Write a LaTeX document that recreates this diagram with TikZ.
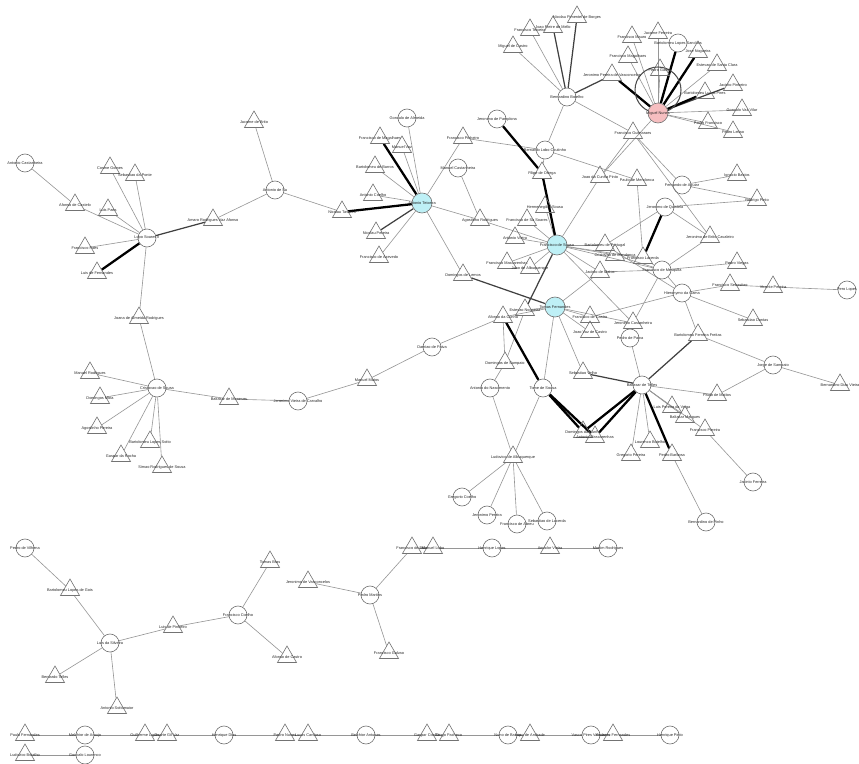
\documentclass[tikz,border=0pt]{standalone}
\usepackage{fontspec}
\setmainfont{Liberation Sans}
\usetikzlibrary{shapes.geometric,backgrounds}
\definecolor{hubcyan}{RGB}{190,240,246}
\definecolor{hubpink}{RGB}{246,190,192}
\definecolor{linkgray}{RGB}{150,150,150}

\begin{document}
\begin{tikzpicture}[x=0.02cm,y=-0.02cm,
  lab/.style={font=\fontsize{2.2}{2.6}\selectfont,inner sep=0pt,text=black!85},
  pers/.style={circle,draw=black!55,line width=0.35pt,minimum size=0.36cm,inner sep=0pt,label={[lab]center:#1}},
  tri/.style={regular polygon,regular polygon sides=3,draw=black!55,line width=0.35pt,minimum size=0.44cm,inner sep=0pt,label={[lab]center:#1}},
  hubc/.style={pers=#1,fill=hubcyan,minimum size=0.4cm},
  hubp/.style={pers=#1,fill=hubpink,minimum size=0.4cm},
  lnk/.style={draw=linkgray,line width=0.35pt},
  mid/.style={draw=black!75,line width=0.7pt},
  strong/.style={draw=black,line width=1.3pt}]
  \useasboundingbox (0,0) rectangle (859,764);

  % Left cluster
  \node[pers={Antonio Castanheira}] (acast) at (25,163) {};
  \node[tri={Afonso de Castelo}] (afcas) at (75,205) {};
  \node[tri={Cosme Gomes}] (cgom) at (110,168) {};
  \node[tri={Sebastiao da Ponte}] (spin) at (135,175) {};
  \node[tri={Luis Paes}] (lpaes) at (108,210) {};
  \node[pers={Lopo Soares II}] (lopo) at (147,238) {};
  \node[tri={Francisco Paes}] (fpaes) at (85,248) {};
  \node[tri={Luis de Fernandes}] (lfern) at (97,273) {};
  \node[tri={Amaro Rodrigues Vaz Afonso}] (arva) at (213,220) {};
  \node[pers={Antonio de Sa}] (asi) at (275,190) {};
  \node[tri={Jacome de Brito}] (jbra) at (254,122) {};
  \node[tri={Nicolau Tavares}] (ntav) at (342,212) {};

  % First hub
  \node[hubc={Antonio Teixeira}] (hubA) at (422,203) {};
  \node[tri={Francisco de Magalhaes}] (fmag) at (380,138) {};
  \node[tri={Manuel Vaz}] (mvaz) at (402,147) {};
  \node[pers={Goncalo de Almeida}] (gdem) at (407,118) {};
  \node[tri={Bartolomeu de Barros}] (bbar) at (375,167) {};
  \node[tri={Antonio Coelho}] (acag) at (373,195) {};
  \node[tri={Nicolau Pereira}] (npai) at (376,233) {};
  \node[tri={Francisco de Azevedo}] (fazev) at (379,257) {};
  \node[tri={Francisco Pinheiro}] (fpinh) at (463,138) {};
  \node[pers={Manuel Castanheira}] (mcas) at (458,168) {};
  \node[tri={Agostinho Rodrigues}] (agpon) at (480,220) {};
  \node[tri={Domingos de Lemos}] (dsou) at (463,275) {};

  % Top middle
  \node[pers={Jeronimo de Pamplona}] (jpam) at (497,119) {};
  \node[tri={Filipe de Ortega}] (fort) at (542,173) {};
  \node[pers={Bernardo Lobo Coutinho}] (bloz) at (545,150) {};
  \node[pers={Bernardino Botelho}] (bbot) at (567,97) {};
  \node[tri={Miguel de Castro}] (mcast) at (513,47) {};
  \node[tri={Francisco Teixeira}] (ftei) at (530,30) {};
  \node[tri={Joao Freire de Mello}] (jprad) at (553,27) {};
  \node[tri={Nicolau Pimentel de Borges}] (npbor) at (577,17) {};
  \node[tri={Jeronimo Pereira de Vasconcelos}] (jpmel) at (612,75) {};

  % Second hub (top right)
  \node[hubp={Miguel Nunes}] (pink) at (658,113) {};
  \node[tri={Francisco Guimaraes}] (fgui) at (633,133) {};
  \node[tri={Joao da Cunha Pinto}] (jcun) at (600,177) {};
  \node[tri={Paulo de Mendonca}] (pmen) at (637,180) {};
  \node[tri={Francisco Mauro}] (fmau) at (632,37) {};
  \node[tri={Jacome Ferreira}] (jfer) at (658,33) {};
  \node[pers={Bartolomeu Lopes Sanches}] (blsan) at (678,43) {};
  \node[tri={Jose Nogueira}] (jnog) at (698,52) {};
  \node[tri={Francisco Magalhaes}] (fmag2) at (628,57) {};
  \node[tri={Estevao de Santa Clara}] (ssan) at (717,65) {};
  \node[tri={Pedro Garcia}] (pgar) at (660,70) {};
  \node[tri={Jacinto Pinheiro}] (jpin) at (733,85) {};
  \node[tri={Bartolomeu Lucas Pires}] (bpir) at (705,93) {};
  \node[tri={Goncalo Vaz Vilar}] (gvil) at (742,110) {};
  \node[tri={Pedro Francisco}] (pfra) at (708,123) {};
  \node[tri={Pedro Leitao}] (pleit) at (733,132) {};
  \coordinate (loopc) at (658,90);

  % Right middle
  \node[pers={Fernando de Aguiar}] (faguiar) at (682,185) {};
  \node[tri={Ignacio Bastos}] (ibast) at (737,175) {};
  \node[tri={Rodrigo Pinto}] (rpin) at (757,200) {};
  \node[pers={Jeronimo de Quintela}] (jqui) at (665,207) {};
  \node[tri={Jeronimo de Brito Cavaleiro}] (jcav) at (710,237) {};
  \node[tri={Hermenegildo Sousa}] (hsou) at (545,207) {};
  \node[tri={Francisco de Sa Soares}] (fsoar) at (527,220) {};
  \node[tri={Antonio Vieira}] (avie) at (515,238) {};
  \node[tri={Francisco Mascarenhas}] (fmas) at (507,263) {};
  \node[tri={Joao de Albuquerque}] (jalb) at (530,268) {};
  \node[hubc={Francisco de Sousa}] (hubB) at (557,245) {};
  \node[tri={Bartolomeu de Portugal}] (bport) at (605,245) {};
  \node[tri={Cristovao de Mendonca}] (cmen) at (615,255) {};
  \node[tri={Francisco Lacerda}] (llac) at (643,258) {};
  \node[tri={Jacinto de Matos}] (jmat) at (600,272) {};
  \node[pers={Francisco de Mesquita}] (fmgl) at (662,270) {};
  \node[tri={Pedro Viegas}] (pvie) at (737,263) {};
  \node[tri={Francisco Sebastiao}] (fseb) at (730,285) {};
  \node[tri={Vicente Pereira}] (vper) at (773,287) {};
  \node[pers={Pero Lopes}] (plop) at (847,290) {};
  \node[pers={Hieronymo da Gama}] (hgam) at (682,293) {};
  \node[tri={Sebastiao Dantas}] (sdan) at (753,320) {};

  % Third hub
  \node[hubc={Tomas Fernandes}] (hubC) at (555,307) {};
  \node[tri={Estevao Nogueira}] (eest) at (525,310) {};
  \node[tri={Afonso da Cunha}] (acub) at (503,317) {};
  \node[tri={Francisco de Castro}] (fcas) at (590,317) {};
  \node[tri={Joao Vaz de Castro}] (jcas) at (590,332) {};
  \node[tri={Jeronimo Castanheira}] (jcast) at (633,323) {};
  \node[pers={Pedro de Paiva}] (ppai) at (630,338) {};
  \node[tri={Bartolomeu Ferreira Freitas}] (bfre) at (698,335) {};

  % Lower middle
  \node[tri={Domingos de Sampaio}] (dsam) at (505,363) {};
  \node[pers={Antonio do Nascimento}] (anas) at (490,388) {};
  \node[pers={Tome de Sousa}] (tsou) at (543,388) {};
  \node[tri={Sebastiao Velho}] (svel) at (583,373) {};
  \node[pers={Baltasar de Telles}] (btel) at (642,385) {};
  \node[tri={Domingos da Cunha}] (dcun) at (583,432) {};
  \node[tri={Antonio Mascarenhas}] (amas) at (595,437) {};
  \node[tri={Luis Pereira da Veiga}] (lper) at (672,407) {};
  \node[tri={Baltasar Marques}] (bmar) at (685,417) {};
  \node[tri={Francisco Pereira}] (fper) at (705,430) {};
  \node[tri={Lourenco Botelho}] (lbot) at (650,442) {};
  \node[tri={Gregorio Pereira}] (gper) at (631,455) {};
  \node[tri={Pedro Barbosa}] (pbar) at (672,455) {};
  \node[tri={Ludovico de Albuquerque}] (ludalb) at (513,457) {};
  \node[pers={Gregorio Coelho}] (gcoe) at (462,497) {};
  \node[pers={Jeronimo Pereira}] (jper) at (487,515) {};
  \node[pers={Francisco de Abreu}] (fdea) at (517,524) {};
  \node[pers={Sebastiao de Lacerda}] (slac) at (547,521) {};
  \node[tri={Paulo de Mattos}] (pmat) at (717,395) {};
  \node[pers={Jorge de Sampaio}] (jsam) at (773,365) {};
  \node[tri={Bernardino Dias Vieira}] (bvie) at (840,385) {};
  \node[pers={Jacinto Ferreira}] (jfer2) at (753,482) {};
  \node[pers={Bernardino de Pinho}] (bpin) at (706,522) {};

  % Lower left
  \node[tri={Joana de Almeida Rodrigues}] (jrod) at (139,318) {};
  \node[pers={Cristovao de Sousa}] (csou) at (157,388) {};
  \node[tri={Manuel Rodrigues}] (mrod) at (90,373) {};
  \node[tri={Domingos Mota}] (dmot) at (100,398) {};
  \node[tri={Agostinho Pereira}] (aper) at (97,428) {};
  \node[tri={Bartolomeu Lopes Sotto}] (blso) at (150,442) {};
  \node[tri={Gaspar da Rocha}] (groc) at (121,456) {};
  \node[tri={Simao Rodrigues de Sousa}] (srso) at (162,467) {};
  \node[tri={Baltasar de Meneses}] (bdem) at (229,399) {};
  \node[pers={Jeronimo Vieira de Carvalho}] (jcar) at (298,401) {};
  \node[tri={Manuel Matos}] (mmat) at (367,380) {};
  \node[pers={Damiao de Paiva}] (dpai) at (432,347) {};

  % Bottom clusters
  \node[pers={Pedro de Vilhena}] (pvil) at (25,548) {};
  \node[tri={Bartolomeu Lopes de Gois}] (blgo) at (70,590) {};
  \node[pers={Luis da Silveira}] (lsil) at (110,643) {};
  \node[tri={Bernardo Telles}] (btel2) at (55,677) {};
  \node[tri={Antonio Sottomaior}] (asot) at (117,708) {};
  \node[tri={Luis de Pinheiro}] (lpin) at (173,627) {};
  \node[pers={Francisco Coelho}] (fcoe) at (238,615) {};
  \node[tri={Tomas Bras}] (tbra) at (270,562) {};
  \node[tri={Afonso de Castro}] (acas) at (287,657) {};
  \node[tri={Jeronimo de Vasconcelos}] (jvas) at (308,582) {};
  \node[pers={Pedro Martins}] (pmar) at (370,595) {};
  \node[tri={Francisco Galvao}] (fgal) at (389,653) {};
  \node[tri={Francisco de Brito}] (fbri) at (412,548) {};
  \node[tri={Manuel Lobo}] (mlob) at (433,548) {};
  \node[pers={Henrique Lopes}] (hlop) at (492,548) {};
  \node[tri={Amador Vieira}] (avi2) at (550,548) {};
  \node[pers={Martim Rodrigues}] (mrodr) at (608,548) {};

  % Bottom rows
  \node[tri={Paulo Fernandes}] (r1) at (25,735) {};
  \node[pers={Melchior de Araujo}] (r2) at (85,735) {};
  \node[tri={Guilherme Lopes}] (r3) at (145,735) {};
  \node[tri={Duarte Gil Vaz}] (r4) at (167,735) {};
  \node[pers={Henrique Dias}] (r5) at (224,735) {};
  \node[tri={Pedro Nunes}] (r6) at (285,735) {};
  \node[tri={Lucas Cardoso}] (r7) at (308,735) {};
  \node[pers={Belchior Antunes}] (r8) at (366,735) {};
  \node[tri={Gaspar Coelho}] (r9) at (427,735) {};
  \node[tri={Diogo Pacheco}] (r10) at (449,735) {};
  \node[pers={Nuno de Barros}] (r11) at (508,735) {};
  \node[tri={Lopo de Andrade}] (r12) at (530,735) {};
  \node[pers={Vasco Pires Valadares}] (r13) at (591,735) {};
  \node[tri={Ascenso Fernandes}] (r14) at (613,735) {};
  \node[pers={Henrique Pinto}] (r15) at (670,735) {};
  \node[tri={Ludovico Botelho}] (s1) at (25,755) {};
  \node[pers={Goncalo Lourenco}] (s2) at (85,755) {};

  % Links
  \begin{scope}[on background layer]
    \foreach \a/\b in {acast/afcas,afcas/lopo,cgom/lopo,spin/lopo,lpaes/lopo,fpaes/lopo,arva/asi,asi/jbra,asi/ntav,lopo/jrod,
      jrod/csou,csou/mrod,csou/dmot,csou/aper,csou/blso,csou/groc,csou/srso,csou/bdem,bdem/jcar,jcar/mmat,mmat/dpai,dpai/acub,
      hubA/mvaz,hubA/gdem,hubA/bbar,hubA/acag,hubA/fazev,hubA/fpinh,hubA/dsou,hubA/agpon,mcas/agpon,fpinh/bloz,
      fort/bloz,bloz/bbot,bloz/pmen,bbot/mcast,bbot/ftei,bbot/fgui,
      pink/fmau,pink/jfer,pink/fmag2,pink/ssan,pink/pgar,pink/gvil,pink/pfra,pink/pleit,pink/jcun,
      fgui/jcun,fgui/faguiar,fgui/jcav,pmen/llac,faguiar/ibast,faguiar/rpin,jqui/rpin,jqui/jcav,jqui/bport,
      hubB/hsou,hubB/agpon,hubB/fsoar,hubB/avie,hubB/fmas,hubB/jalb,hubB/bport,hubB/cmen,hubB/llac,hubB/jmat,hubB/jcun,hubB/fmgl,hubB/jcast,
      fmgl/pvie,fmgl/jcav,fmgl/hgam,fmgl/jmat,fmgl/llac,fmgl/jcast,cmen/fmgl,hgam/fseb,hgam/sdan,hgam/bport,hgam/fcas,hgam/bfre,fseb/vper,vper/plop,
      hubC/eest,hubC/acub,hubC/fcas,hubC/jcas,hubC/jcast,hubC/jmat,hubC/tsou,hubC/svel,
      dsam/acub,dsam/eest,anas/dsam,anas/ludalb,tsou/ludalb,ludalb/gcoe,ludalb/jper,ludalb/fdea,ludalb/slac,
      ppai/jcast,ppai/btel,btel/pmat,btel/gper,btel/lbot,btel/lper,btel/bmar,btel/fper,fper/jfer2,pbar/bpin,
      bfre/jsam,jsam/pmat,jsam/bvie,
      pvil/blgo,blgo/lsil,lsil/btel2,lsil/asot,lsil/lpin,lpin/fcoe,fcoe/tbra,fcoe/acas,jvas/pmar,pmar/fgal,pmar/fbri,
      fbri/mlob,mlob/hlop,hlop/avi2,avi2/mrodr,
      r1/r2,r2/r3,r3/r4,r4/r5,r5/r6,r6/r7,r7/r8,r8/r9,r9/r10,r10/r11,r11/r12,r12/r13,r13/r14,r14/r15,s1/s2}
      \draw[lnk] (\a) -- (\b);
    \foreach \a/\b in {lopo/arva,hubA/npai,bbot/jprad,bbot/npbor,bbot/jpmel,pink/jpin,hubC/dsou,svel/btel,btel/bfre,hubB/eest}
      \draw[mid] (\a) -- (\b);
    \foreach \a/\b in {lfern/lopo,ntav/hubA,fmag/hubA,jpam/fort,fort/hubB,jpmel/pink,pink/blsan,pink/jnog,pink/bpir,
      jqui/llac,acub/tsou,tsou/dcun,tsou/amas,btel/dcun,btel/amas,btel/pbar}
      \draw[strong] (\a) -- (\b);
    % self loop
    \draw[draw=black!70,line width=0.6pt] (loopc) circle[radius=23];
  \end{scope}
\end{tikzpicture}
\end{document}
